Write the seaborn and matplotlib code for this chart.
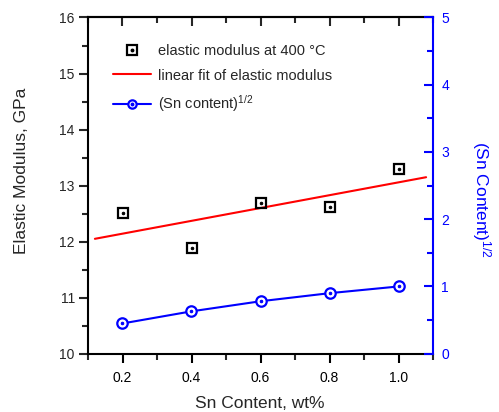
import numpy as np
import pandas as pd
import matplotlib
matplotlib.use("Agg")
import matplotlib.pyplot as plt
import seaborn as sns
from matplotlib.ticker import MultipleLocator, FixedLocator
from matplotlib.legend_handler import HandlerTuple
from matplotlib.lines import Line2D

# ---- data ----
sn_content = [0.2, 0.4, 0.6, 0.8, 1.0]
elastic_modulus = [12.51, 11.89, 12.69, 12.62, 13.29]
sqrt_sn = [0.45, 0.63, 0.78, 0.90, 1.00]
fit_range = [0.12, 1.08]

label_mod = "elastic modulus at 400 °C"
label_fit = "linear fit of elastic modulus"
label_sqrt = "(Sn content)$^{1/2}$"
xlabel = "Sn Content, wt%"
ylabel = "Elastic Modulus, GPa"
y2label = "(Sn Content)$^{1/2}$"

sns.set_theme(style="ticks")
plt.rcParams["font.family"] = ["Liberation Sans", "DejaVu Sans"]
plt.rcParams["mathtext.fontset"] = "custom"
plt.rcParams["mathtext.rm"] = "Liberation Sans"
plt.rcParams["mathtext.it"] = "Liberation Sans"

slope, intercept = np.polyfit(sn_content, elastic_modulus, 1)
fit_x = np.linspace(fit_range[0], fit_range[1], 60)
fit_df = pd.DataFrame({"x": fit_x, "y": slope * fit_x + intercept})
df = pd.DataFrame({"x": sn_content, "E": elastic_modulus, "s": sqrt_sn})

fig = plt.figure(figsize=(4.99, 4.12), dpi=100)
ax = fig.add_axes([88/499, 1 - 353.7/412, (433-88)/499, (353.7-17.5)/412])
ax2 = ax.twinx()

lw = 1.5
sns.lineplot(data=fit_df, x="x", y="y", ax=ax, color="red", lw=lw, zorder=2)
sns.lineplot(data=df, x="x", y="E", ax=ax, marker="s", linestyle="", markersize=7,
             markerfacecolor="none", markeredgecolor="black", markeredgewidth=1.6, zorder=3)
sns.lineplot(data=df, x="x", y="E", ax=ax, marker="o", linestyle="", markersize=1.8,
             markerfacecolor="black", markeredgecolor="black", zorder=4)

sns.lineplot(data=df, x="x", y="s", ax=ax2, color="blue", lw=lw, marker="o", markersize=7.5,
             markerfacecolor="white", markeredgecolor="blue", markeredgewidth=1.6)
sns.lineplot(data=df, x="x", y="s", ax=ax2, marker="o", linestyle="", markersize=1.8,
             markerfacecolor="blue", markeredgecolor="blue")

ax.set_xlim(0.1, 1.1)
ax.set_ylim(10, 16)
ax2.set_ylim(0, 5)

tick_fs = 10
ax.xaxis.set_major_locator(FixedLocator([0.2, 0.4, 0.6, 0.8, 1.0]))
ax.xaxis.set_minor_locator(FixedLocator([0.1, 0.3, 0.5, 0.7, 0.9, 1.1]))
ax.xaxis.set_major_formatter(matplotlib.ticker.FormatStrFormatter("%.1f"))
ax.yaxis.set_major_locator(MultipleLocator(1))
ax.yaxis.set_minor_locator(MultipleLocator(0.5))
ax2.yaxis.set_major_locator(MultipleLocator(1))
ax2.yaxis.set_minor_locator(MultipleLocator(0.5))

ax.tick_params(axis="x", which="major", direction="out", length=6.5, width=lw, labelsize=tick_fs,
               colors="black", pad=6)
ax.tick_params(axis="x", which="minor", direction="out", length=4, width=lw)
ax.tick_params(axis="y", which="major", direction="out", length=6.5, width=lw, labelsize=tick_fs, pad=3)
ax.tick_params(axis="y", which="minor", direction="out", length=4, width=lw)
ax2.tick_params(axis="y", which="major", direction="in", length=6.5, width=lw, colors="blue",
                labelsize=tick_fs, pad=6)
ax2.tick_params(axis="y", which="minor", direction="in", length=4, width=lw, colors="blue")

top = ax.secondary_xaxis("top")
top.xaxis.set_major_locator(FixedLocator([0.2, 0.4, 0.6, 0.8, 1.0]))
top.xaxis.set_minor_locator(FixedLocator([0.1, 0.3, 0.5, 0.7, 0.9, 1.1]))
top.tick_params(axis="x", which="major", direction="in", length=6.5, width=lw, labeltop=False)
top.tick_params(axis="x", which="minor", direction="in", length=4, width=lw)
top.spines["top"].set_linewidth(lw)

for s in ["left", "bottom", "top"]:
    ax.spines[s].set_linewidth(lw)
    ax.spines[s].set_color("black")
ax.spines["right"].set_visible(False)
for s in ["left", "bottom", "top"]:
    ax2.spines[s].set_visible(False)
ax2.spines["right"].set_linewidth(lw)
ax2.spines["right"].set_color("blue")

lab_fs = 12.5
ax.set_xlabel(xlabel, fontsize=lab_fs)
ax.set_ylabel(ylabel, fontsize=lab_fs)
ax2.set_ylabel(y2label, fontsize=lab_fs, color="blue", rotation=270)
ax.xaxis.set_label_coords(0.497, -0.125)
ax.yaxis.set_label_coords(-0.17, 0.545)
ax2.yaxis.set_label_coords(1.175, 0.46)
ax.grid(False)
ax2.grid(False)

h1 = (Line2D([], [], marker="s", linestyle="", markersize=7, markerfacecolor="none",
             markeredgecolor="black", markeredgewidth=1.6),
      Line2D([], [], marker="o", linestyle="", markersize=1.8, color="black"))
h2 = Line2D([], [], color="red", lw=lw)
h3 = (Line2D([], [], color="blue", lw=lw, marker="o", markersize=6, markerfacecolor="white",
             markeredgecolor="blue", markeredgewidth=1.6),
      Line2D([], [], marker="o", linestyle="", markersize=1.8, color="blue"))
ax.legend([h1, h2, h3], [label_mod, label_fit, label_sqrt],
          handler_map={tuple: HandlerTuple(ndivide=1, pad=0)},
          loc="upper left", bbox_to_anchor=(0.035, 0.96), frameon=False, fontsize=10.5,
          handlelength=2.6, labelspacing=0.72, handletextpad=0.45)

fig.savefig("out.png", dpi=100)
